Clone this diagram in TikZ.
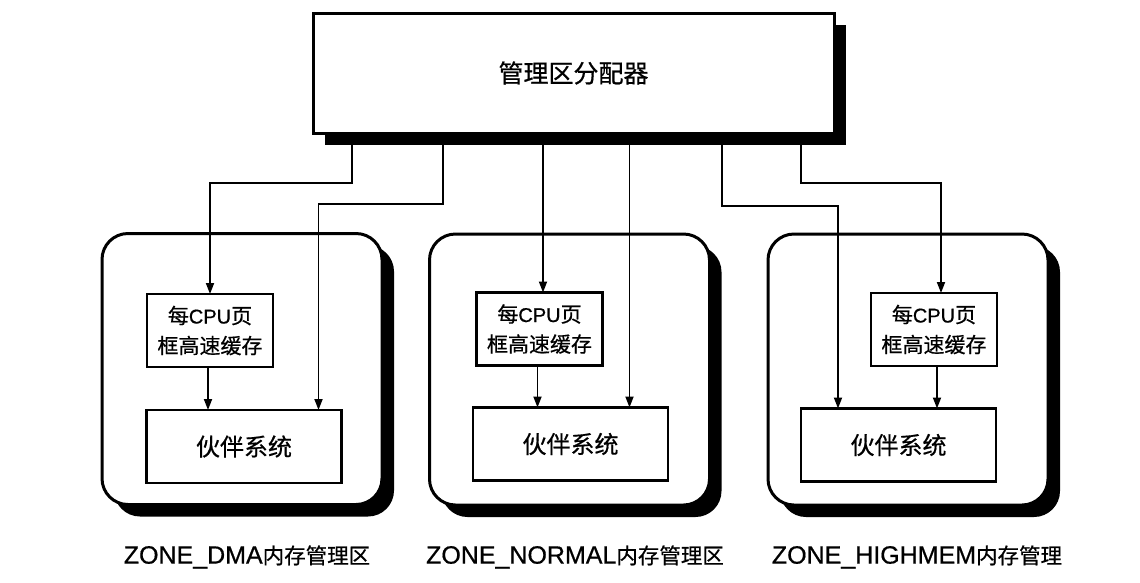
\documentclass[tikz,border=0pt]{standalone}
\usepackage{fontspec}
\setmainfont{Noto Sans CJK SC}[FakeBold=0.6]
\newfontfamily\latfont{Liberation Sans}[FakeBold=0.6]
\newcommand{\lat}[1]{{\latfont #1}}
\usetikzlibrary{arrows.meta,shadows,calc}
\begin{document}
\begin{tikzpicture}[x=1pt,y=-1pt,
  every node/.style={outer sep=0pt,inner sep=0pt},
  shad/.style={general shadow={fill=black,shadow xshift=12pt,shadow yshift=-12pt}},
  bigbox/.style={draw,line width=3pt,fill=white,shad,minimum width=521pt,minimum height=120pt,
    font=\fontsize{25}{30}\selectfont},
  zonebox/.style={draw,line width=3pt,fill=white,rounded corners=26pt,shad,
    minimum width=280pt,minimum height=271pt},
  cachebox/.style={draw,line width=2.6pt,fill=white,minimum width=126pt,minimum height=73pt,
    align=center,font=\fontsize{21}{30}\selectfont},
  buddybox/.style={draw,line width=2.6pt,fill=white,minimum width=195pt,minimum height=73pt,
    font=\fontsize{24}{28}\selectfont},
  zlabel/.style={font=\fontsize{21.5}{24}\selectfont},
  arr/.style={line width=1.8pt,-{Triangle[length=11pt,width=8pt]}}
]
\useasboundingbox (0,0) rectangle (1140,582);
\fill[white] (0,0) rectangle (1140,582);

% top allocator
\node[bigbox] (top) at (573.5,73) {管理区分配器};

% zones
\node[zonebox] (z1) at (242,369) {};
\node[zonebox] (z2) at (569.5,369.5) {};
\node[zonebox] (z3) at (908,369.5) {};

% per-CPU caches
\node[cachebox] (c1) at (210,330.5) {每\lat{\fontsize{20}{24}\selectfont CPU}页\\框高速缓存};
\node[cachebox] (c2) at (539.5,329) {每\lat{\fontsize{20}{24}\selectfont CPU}页\\框高速缓存};
\node[cachebox] (c3) at (934,329.5) {每\lat{\fontsize{20}{24}\selectfont CPU}页\\框高速缓存};

% buddy systems
\node[buddybox] (b1) at (244,446.5) {伙伴系统};
\node[buddybox] (b2) at (570.5,444) {伙伴系统};
\node[buddybox] (b3) at (898.5,445) {伙伴系统};

% zone labels
\node[zlabel] (l1) at (247,557) {\lat{\fontsize{25}{24}\selectfont ZONE\_DMA}内存管理区};
\node[zlabel] (l2) at (575,557) {\lat{\fontsize{25}{24}\selectfont ZONE\_NORMAL}内存管理区};
\node[zlabel] (l3) at (917,557) {\lat{\fontsize{25}{24}\selectfont ZONE\_HIGHMEM}内存管理};

% connector start points on the allocator's shadow edge
\coordinate (s1) at ([xshift=-221.5pt,yshift=-12pt]top.south);
\coordinate (s2) at ([xshift=-130.5pt,yshift=-12pt]top.south);
\coordinate (s5) at ([xshift=148.5pt,yshift=-12pt]top.south);
\coordinate (s6) at ([xshift=227.5pt,yshift=-12pt]top.south);
\coordinate (s0) at ([yshift=-12pt]top.south);

% targets
\coordinate (t3) at ([xshift=3.5pt]c2.north);
\coordinate (t4) at ([xshift=59pt]b2.north);

% allocator -> zones
\draw[arr] (s1) -- ++(0,38) -| (c1.north);
\draw[arr] (s2) -- ++(0,59) -| ([xshift=-23pt]b1.north east);
\draw[arr] (t3 |- s0) -- (t3);
\draw[arr] (t4 |- s0) -- (t4);
\draw[arr] (s5) -- ++(0,61) -| ([xshift=37pt]b3.north west);
\draw[arr] (s6) -- ++(0,38) -| ([xshift=7pt]c3.north);

% caches -> buddy systems
\draw[arr] ([xshift=-2pt]c1.south) -- ([xshift=-2pt]c1.south |- b1.north);
\draw[arr] ([xshift=-2pt]c2.south) -- ([xshift=-2pt]c2.south |- b2.north);
\draw[arr] ([xshift=3pt]c3.south) -- ([xshift=3pt]c3.south |- b3.north);
\end{tikzpicture}
\end{document}
